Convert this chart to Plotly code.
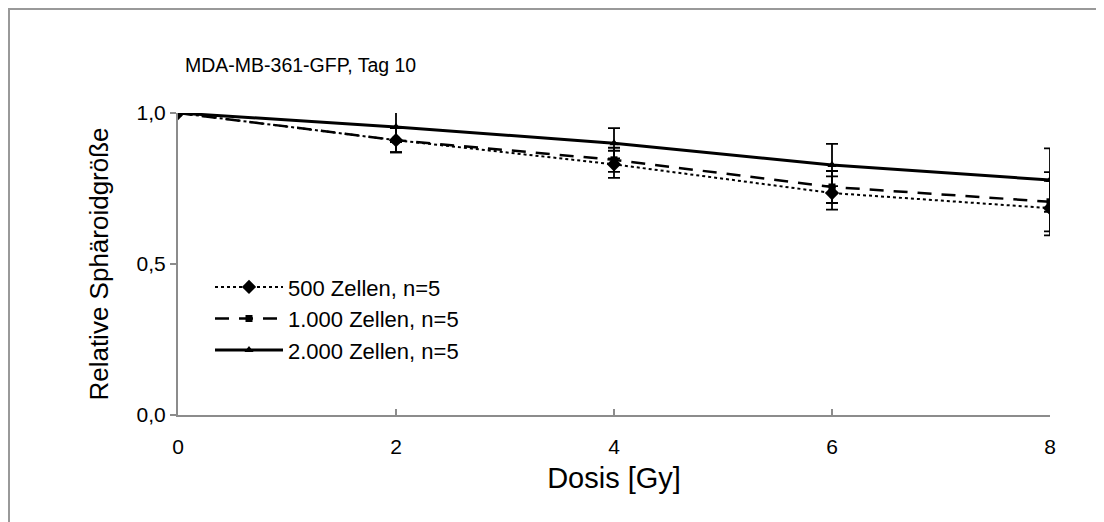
import plotly.graph_objects as go

dose = [0, 2, 4, 6, 8]
names = ["500 Zellen, n=5", "1.000 Zellen, n=5", "2.000 Zellen, n=5"]
vals_500 = [1.0, 0.91, 0.83, 0.735, 0.685]
err_500 = [0.0, 0.04, 0.045, 0.055, 0.09]
vals_1000 = [1.0, 0.91, 0.845, 0.755, 0.706]
err_1000 = [0.0, 0.04, 0.04, 0.053, 0.098]
vals_2000 = [1.0, 0.954, 0.90, 0.828, 0.778]
err_2000 = [0.0, 0.05, 0.05, 0.07, 0.105]

series = [
    (names[0], vals_500, err_500, "dot", "diamond", 11, 2),
    (names[1], vals_1000, err_1000, "14px,10px", "square", 7, 2.5),
    (names[2], vals_2000, err_2000, "solid", "triangle-up", 8, 3),
]

fig = go.Figure()
for name, v, e, dash, sym, ms, lw in series:
    fig.add_trace(go.Scatter(
        x=dose, y=v, name=name, mode="lines+markers",
        line=dict(color="black", width=lw, dash=dash),
        marker=dict(symbol=sym, size=ms, color="black"),
        error_y=dict(type="data", array=e, visible=True, color="black",
                     thickness=1.8, width=6),
    ))

font = "Liberation Sans, Arial, sans-serif"
W, H = 1104, 522
ml, mr, mt, mb = 170, 62, 105, 115
pw, ph = W - ml - mr, H - mt - mb

fig.update_layout(
    width=W, height=H,
    margin=dict(l=ml, r=mr, t=mt, b=mb),
    paper_bgcolor="white", plot_bgcolor="white",
    separators=",.",
    font=dict(family=font, color="black", size=21),
    showlegend=True,
    legend=dict(x=32 / pw, y=0.493, xanchor="left", yanchor="top",
                font=dict(size=22, family=font), bgcolor="rgba(0,0,0,0)",
                tracegroupgap=0, itemwidth=68),
    annotations=[dict(text="MDA-MB-361-GFP, Tag 10",
                      x=5 / pw, y=1 + 48 / ph,
                      xref="paper", yref="paper", showarrow=False,
                      xanchor="left", yanchor="middle",
                      font=dict(size=19.5, family=font))],
    shapes=[dict(type="rect", xref="paper", yref="paper",
                 x0=-ml / pw + 1 / pw, x1=1 + (mr - 1) / pw,
                 y0=-(mb - 1) / ph, y1=1 + (mt - 1) / ph,
                 line=dict(color="#999999", width=2), layer="below")],
)

fig.update_xaxes(range=[0, 8], tickvals=dose, showgrid=False, zeroline=False,
                 showline=True, linecolor="#8c8c8c", linewidth=2,
                 ticks="inside", ticklen=6, tickcolor="#8c8c8c", tickwidth=2,
                 ticklabelstandoff=12,
                 title=dict(text="Dosis [Gy]", font=dict(size=29), standoff=10),
                 tickfont=dict(size=21))
fig.update_yaxes(range=[0, 1.0], tickvals=[0, 0.5, 1.0], tickformat=".1f",
                 showgrid=False, zeroline=False,
                 showline=True, linecolor="#8c8c8c", linewidth=2,
                 ticks="outside", ticklen=6, tickcolor="#8c8c8c", tickwidth=2,
                 title=dict(text="Relative Sphäroidgröße", font=dict(size=26), standoff=20),
                 tickfont=dict(size=21))

fig.write_html("out.html")
